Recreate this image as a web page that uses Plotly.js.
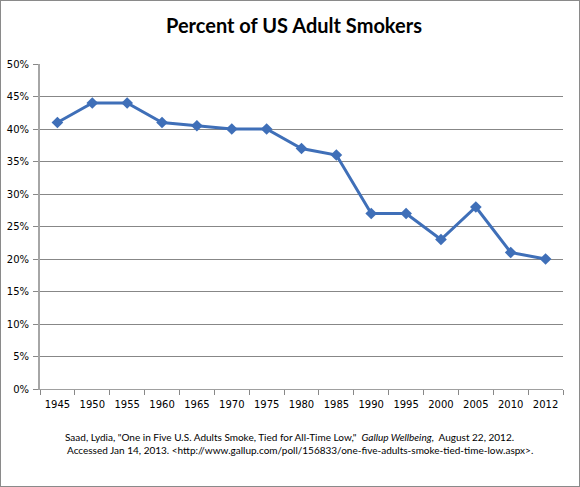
<!DOCTYPE html>
<html>
<head>
<meta charset="utf-8">
<script src="https://cdn.plot.ly/plotly-3.0.1.min.js"></script>
<style>
  html, body { margin: 0; padding: 0; background: #fff; }
  #wrap { position: relative; width: 580px; height: 487px; }
  #chart { width: 580px; height: 487px; }
  #frame { position: absolute; left: 0; top: 0; width: 578px; height: 485px; border: 1px solid #8a8a8a; pointer-events: none; }
</style>
</head>
<body>
<div id="wrap"><div id="chart"></div><div id="frame"></div></div>
<script>
const years = ["1945","1950","1955","1960","1965","1970","1975","1980","1985","1990","1995","2000","2005","2010","2012"];
const smokers = [41, 44, 44, 41, 40.5, 40, 40, 37, 36, 27, 27, 23, 28, 21, 20];
const titleText = "Percent of US Adult Smokers";
const sourceLine1 = 'Saad, Lydia, "One in Five U.S. Adults Smoke, Tied for All-Time Low,"  <i>Gallup Wellbeing</i>,  August 22, 2012.';
const sourceLine2 = 'Accessed Jan 14, 2013. &lt;http://www.gallup.com/poll/156833/one-five-adults-smoke-tied-time-low.aspx&gt;.';

const W = 580, H = 487;
const L = 40, R = 17, T = 64, B = 98;
const plotW = W - L - R, plotH = H - T - B;
const px2x = p => (p - L) / plotW;
const py2y = p => (H - B - p) / plotH;

const trace = {
  type: 'scatter', mode: 'lines+markers',
  x: years, y: smokers,
  line: { color: '#3F6FB8', width: 3 },
  marker: { symbol: 'diamond', size: 9, color: '#3F6FB8' },
  hoverinfo: 'x+y'
};

const tickFont = { family: 'DejaVu Sans, Verdana, sans-serif', size: 10, color: '#000' };
const noteFont = { family: 'Lato, Calibri, sans-serif', size: 10, color: '#000' };

const layout = {
  width: W, height: H,
  margin: { l: L, r: R, t: T, b: B, pad: 0 },
  paper_bgcolor: '#fff', plot_bgcolor: '#fff',
  showlegend: false,
  title: {
    text: titleText,
    font: { family: 'Lato, Calibri, sans-serif', size: 20, color: '#000', weight: 'bold' },
    x: 294 / W, xanchor: 'center', xref: 'container',
    y: 1 - 26 / H, yanchor: 'middle', yref: 'container'
  },
  xaxis: {
    type: 'category',
    range: [-0.5, years.length - 0.5],
    showgrid: false, zeroline: false,
    showline: true, linecolor: '#A0A0A0', linewidth: 1,
    ticks: 'outside', tickson: 'boundaries', ticklen: 5, tickcolor: '#888', tickwidth: 1,
    ticklabelstandoff: 6,
    tickfont: tickFont, fixedrange: true
  },
  yaxis: {
    range: [0, 50], dtick: 5, tick0: 0, ticksuffix: '%',
    showgrid: true, gridcolor: '#878787', gridwidth: 1,
    zeroline: false,
    showline: true, linecolor: '#A6A6A6', linewidth: 2,
    ticks: 'outside', ticklen: 5, tickcolor: '#888', tickwidth: 1,
    ticklabelstandoff: 2,
    tickfont: tickFont, fixedrange: true
  },
  annotations: [
    { text: sourceLine1, xref: 'paper', yref: 'paper', x: px2x(63), y: py2y(437),
      xanchor: 'left', yanchor: 'middle', showarrow: false, font: noteFont, align: 'left' },
    { text: sourceLine2, xref: 'paper', yref: 'paper', x: px2x(65), y: py2y(450),
      xanchor: 'left', yanchor: 'middle', showarrow: false, font: noteFont, align: 'left' }
  ]
};

Plotly.newPlot('chart', [trace], layout, { displayModeBar: false, staticPlot: true });
</script>
</body>
</html>
